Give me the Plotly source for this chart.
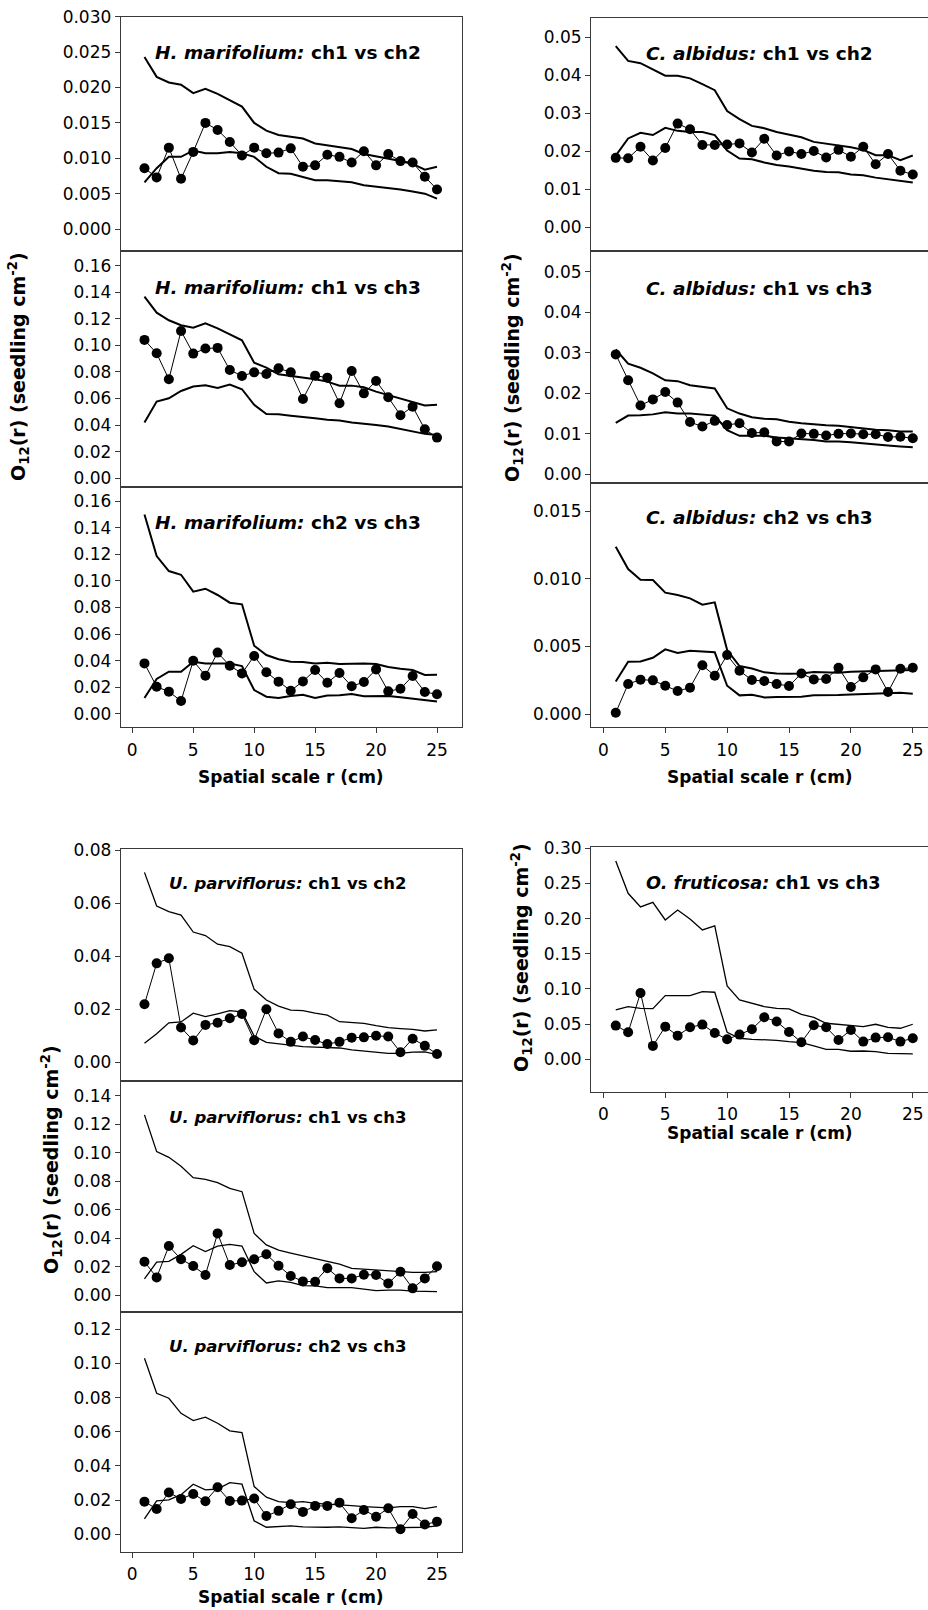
import plotly.graph_objects as go

W, H = 928, 1610

# ---------------- data ----------------
r = list(range(1, 26))
x_ticks = [0, 5, 10, 15, 20, 25]

hm12_obs = [0.0086,0.0073,0.0115,0.0071,0.0109,0.0150,0.0140,0.0123,0.0104,0.0115,0.0107,0.0108,0.0114,0.0088,0.0090,0.0105,0.0102,0.0094,0.0110,0.0090,0.0106,0.0096,0.0094,0.0074,0.0056]
hm12_hi = [0.0243,0.0215,0.0207,0.0204,0.0192,0.0198,0.0191,0.0182,0.0173,0.0150,0.0139,0.0133,0.0131,0.0128,0.0121,0.0118,0.0115,0.0113,0.0106,0.0103,0.0099,0.0096,0.0092,0.0084,0.0088]
hm12_lo = [0.0066,0.0086,0.0102,0.0102,0.0111,0.0107,0.0107,0.0109,0.0107,0.0102,0.0088,0.0079,0.0078,0.0073,0.0069,0.0069,0.0068,0.0066,0.0062,0.0060,0.0059,0.0056,0.0053,0.0050,0.0043]

hm13_obs = [0.1041,0.0940,0.0745,0.1108,0.0938,0.0976,0.0981,0.0815,0.0770,0.0797,0.0785,0.0828,0.0797,0.0597,0.0772,0.0757,0.0564,0.0807,0.0639,0.0732,0.0609,0.0474,0.0539,0.0369,0.0306]
hm13_hi = [0.1367,0.1246,0.1189,0.1151,0.1133,0.1166,0.1128,0.1083,0.1038,0.0870,0.0833,0.0782,0.0770,0.0757,0.0745,0.0727,0.0697,0.0697,0.0685,0.0652,0.0627,0.0597,0.0577,0.0547,0.0554]
hm13_lo = [0.0419,0.0577,0.0602,0.0657,0.0690,0.0700,0.0680,0.0705,0.0670,0.0552,0.0484,0.0482,0.0471,0.0459,0.0451,0.0441,0.0434,0.0419,0.0411,0.0401,0.0389,0.0371,0.0356,0.0334,0.0326]

hm23_obs = [0.0380,0.0205,0.0168,0.0098,0.0400,0.0288,0.0461,0.0363,0.0305,0.0436,0.0313,0.0243,0.0175,0.0245,0.0330,0.0235,0.0308,0.0208,0.0240,0.0335,0.0170,0.0190,0.0285,0.0165,0.0148]
hm23_hi = [0.1499,0.1186,0.1074,0.1046,0.0919,0.0941,0.0894,0.0836,0.0824,0.0513,0.0443,0.0411,0.0393,0.0391,0.0380,0.0385,0.0375,0.0380,0.0380,0.0375,0.0353,0.0340,0.0330,0.0293,0.0295]
hm23_lo = [0.0120,0.0263,0.0318,0.0318,0.0393,0.0380,0.0380,0.0380,0.0360,0.0180,0.0130,0.0120,0.0135,0.0145,0.0120,0.0138,0.0140,0.0150,0.0133,0.0133,0.0135,0.0125,0.0115,0.0100,0.0093]

ca12_obs = [0.0183,0.0182,0.0212,0.0176,0.0209,0.0273,0.0258,0.0217,0.0217,0.0218,0.0221,0.0197,0.0233,0.0189,0.0200,0.0193,0.0201,0.0184,0.0204,0.0186,0.0212,0.0166,0.0193,0.0149,0.0139]
ca12_hi = [0.0477,0.0438,0.0432,0.0416,0.0399,0.0399,0.0392,0.0377,0.0361,0.0306,0.0285,0.0267,0.0261,0.0251,0.0243,0.0237,0.0225,0.0221,0.0216,0.0211,0.0204,0.0190,0.0190,0.0177,0.0189]
ca12_lo = [0.0189,0.0234,0.0249,0.0243,0.0262,0.0254,0.0251,0.0251,0.0243,0.0202,0.0181,0.0179,0.0171,0.0164,0.0160,0.0155,0.0149,0.0146,0.0145,0.0139,0.0137,0.0131,0.0126,0.0123,0.0118]

ca13_obs = [0.0296,0.0232,0.0170,0.0185,0.0203,0.0177,0.0129,0.0118,0.0132,0.0122,0.0126,0.0102,0.0104,0.0081,0.0081,0.0101,0.0100,0.0096,0.0100,0.0101,0.0099,0.0099,0.0092,0.0093,0.0089]
ca13_hi = [0.0308,0.0273,0.0263,0.0249,0.0232,0.0230,0.0220,0.0216,0.0212,0.0163,0.0150,0.0141,0.0137,0.0136,0.0130,0.0126,0.0123,0.0121,0.0120,0.0117,0.0113,0.0110,0.0109,0.0106,0.0106]
ca13_lo = [0.0127,0.0145,0.0146,0.0148,0.0153,0.0150,0.0150,0.0148,0.0145,0.0109,0.0095,0.0095,0.0095,0.0091,0.0089,0.0086,0.0085,0.0081,0.0081,0.0079,0.0076,0.0074,0.0071,0.0069,0.0067]

ca23_obs = [0.0001,0.00222,0.00254,0.00249,0.00209,0.0017,0.00195,0.0036,0.00283,0.00436,0.0032,0.00251,0.00244,0.00222,0.00207,0.0030,0.00256,0.00259,0.00342,0.0020,0.00271,0.0033,0.00163,0.00335,0.00342]
ca23_hi = [0.01236,0.01071,0.00993,0.0099,0.00897,0.00879,0.00855,0.00808,0.00825,0.00473,0.00355,0.00337,0.00308,0.0030,0.00298,0.0030,0.0031,0.00308,0.00305,0.00313,0.00315,0.00318,0.0032,0.0032,0.00325]
ca23_lo = [0.00241,0.00387,0.00389,0.00416,0.00478,0.00451,0.00468,0.00461,0.00456,0.00209,0.00138,0.00143,0.00123,0.00126,0.00126,0.00128,0.00138,0.00138,0.0014,0.00145,0.00148,0.00153,0.00155,0.00158,0.0015]

up12_obs = [0.0219,0.0373,0.0392,0.0131,0.0082,0.0141,0.0149,0.0166,0.0182,0.0083,0.0200,0.0109,0.0077,0.0097,0.0084,0.0069,0.0077,0.0093,0.0094,0.0100,0.0097,0.0038,0.0089,0.0062,0.0031]
up12_hi = [0.0716,0.0589,0.0568,0.0555,0.0491,0.0478,0.0445,0.0436,0.0411,0.0275,0.0235,0.0212,0.0197,0.0195,0.0185,0.0178,0.0153,0.0151,0.0147,0.0138,0.0131,0.0127,0.0124,0.0118,0.0122]
up12_lo = [0.0072,0.0108,0.0149,0.0152,0.0185,0.0172,0.0183,0.0195,0.0190,0.0099,0.0075,0.0070,0.0064,0.0059,0.0057,0.0055,0.0054,0.0047,0.0042,0.0038,0.0034,0.0034,0.0038,0.0039,0.0029]

up13_obs = [0.0236,0.0126,0.0346,0.0253,0.0206,0.0143,0.0435,0.0213,0.0232,0.0253,0.0288,0.0208,0.0136,0.0098,0.0096,0.0190,0.0119,0.0119,0.0145,0.0143,0.0084,0.0166,0.0049,0.0119,0.0204]
up13_hi = [0.1267,0.1009,0.0969,0.0906,0.0826,0.0815,0.0791,0.0751,0.0728,0.0435,0.0354,0.0318,0.0297,0.0279,0.0260,0.0241,0.0220,0.0190,0.0185,0.0178,0.0171,0.0171,0.0162,0.0162,0.0166]
up13_lo = [0.0115,0.0234,0.0239,0.0288,0.0349,0.0307,0.0346,0.0358,0.0346,0.0166,0.0087,0.0101,0.0091,0.0068,0.0066,0.0054,0.0054,0.0054,0.0044,0.0033,0.0037,0.0037,0.0030,0.0026,0.0026]

up23_obs = [0.0191,0.0148,0.0244,0.0207,0.0236,0.0193,0.0275,0.0195,0.0197,0.0209,0.0107,0.0137,0.0176,0.0131,0.0166,0.0166,0.0185,0.0094,0.0142,0.0103,0.0152,0.0029,0.0119,0.0057,0.0074]
up23_hi = [0.1030,0.0825,0.0796,0.0708,0.0665,0.0685,0.0650,0.0605,0.0595,0.0279,0.0217,0.0191,0.0185,0.0191,0.0181,0.0178,0.0172,0.0168,0.0162,0.0160,0.0154,0.0162,0.0162,0.0150,0.0162]
up23_lo = [0.0090,0.0195,0.0201,0.0232,0.0293,0.0260,0.0265,0.0302,0.0293,0.0078,0.0041,0.0045,0.0049,0.0043,0.0041,0.0041,0.0043,0.0041,0.0035,0.0041,0.0037,0.0039,0.0039,0.0041,0.0049]

of13_obs = [0.0479,0.0384,0.0943,0.0190,0.0464,0.0336,0.0455,0.0493,0.0374,0.0284,0.0351,0.0427,0.0597,0.0536,0.0389,0.0242,0.0483,0.0455,0.0275,0.0417,0.0251,0.0308,0.0313,0.0251,0.0299]
of13_hi = [0.282,0.236,0.2166,0.2232,0.1981,0.2123,0.1995,0.1839,0.1896,0.1043,0.0844,0.0796,0.0749,0.0725,0.0716,0.0640,0.0597,0.0512,0.0498,0.0483,0.0464,0.0498,0.0455,0.0441,0.0498]
of13_lo = [0.0701,0.0749,0.0725,0.0720,0.0905,0.0905,0.0905,0.0962,0.0953,0.0384,0.0299,0.0284,0.0280,0.0270,0.0251,0.0237,0.0190,0.0142,0.0142,0.0114,0.0118,0.0109,0.0085,0.0085,0.0076]

labels = [
    ("H. marifolium:", "ch1 vs ch2"), ("H. marifolium:", "ch1 vs ch3"), ("H. marifolium:", "ch2 vs ch3"),
    ("C. albidus:", "ch1 vs ch2"), ("C. albidus:", "ch1 vs ch3"), ("C. albidus:", "ch2 vs ch3"),
    ("U. parviflorus:", "ch1 vs ch2"), ("U. parviflorus:", "ch1 vs ch3"), ("U. parviflorus:", "ch2 vs ch3"),
    ("O. fruticosa:", "ch1 vs ch3"),
]
y_title = "O<sub>12</sub>(r) (seedling cm<sup>-2</sup>)"
x_title = "Spatial scale r (cm)"

series = [
    (hm12_obs, hm12_hi, hm12_lo), (hm13_obs, hm13_hi, hm13_lo), (hm23_obs, hm23_hi, hm23_lo),
    (ca12_obs, ca12_hi, ca12_lo), (ca13_obs, ca13_hi, ca13_lo), (ca23_obs, ca23_hi, ca23_lo),
    (up12_obs, up12_hi, up12_lo), (up13_obs, up13_hi, up13_lo), (up23_obs, up23_hi, up23_lo),
    (of13_obs, of13_hi, of13_lo),
]

# ---------------- layout (pixels) ----------------
FONT = "DejaVu Sans"
LC = "#3a3a3a"
L_X = (120.7, 462.0); L_XR = [-0.95, 27.05]
R_X = (591.0, 928.0); R_XR = [-1.0, 26.23]

# (xpx, ypx(top,bottom), yrange, dtick, tickformat, show x ticks, env width, label px(x,y), label size)
spec = [
    (L_X, (16.7, 251.0), [-0.0031, 0.0300], 0.005, ".3f", False, 2.0, (152.7, 52.3), 18.5),
    (L_X, (251.0, 487.3), [-0.0068, 0.1710], 0.02, ".2f", False, 2.0, (152.7, 287.7), 18.5),
    (L_X, (487.3, 727.3), [-0.0100, 0.1703], 0.02, ".2f", True, 2.0, (152.7, 522.7), 18.5),
    (R_X, (18.3, 251.0), [-0.0062, 0.0550], 0.01, ".2f", False, 2.0, (644.3, 53.3), 18.5),
    (R_X, (251.0, 483.3), [-0.0022, 0.0551], 0.01, ".2f", False, 2.0, (644.3, 288.3), 18.5),
    (R_X, (483.3, 727.3), [-0.00098, 0.01705], 0.005, ".3f", True, 2.0, (644.3, 517.3), 18.5),
    (L_X, (849.3, 1081.0), [-0.00705, 0.0803], 0.02, ".2f", False, 1.3, (166.7, 883.3), 16.5),
    (L_X, (1081.0, 1312.3), [-0.0119, 0.1505], 0.02, ".2f", False, 1.3, (166.7, 1117.7), 16.5),
    (L_X, (1312.3, 1551.7), [-0.0102, 0.1299], 0.02, ".2f", True, 1.3, (166.7, 1346.7), 16.5),
    (R_X, (847.3, 1091.7), [-0.0461, 0.3014], 0.05, ".2f", True, 1.3, (644.3, 883.3), 17.7),
]

def px2x(p):
    return p / W

def px2y(p):
    return 1 - p / H

fig = go.Figure()
annotations = []
layout = {}

for i, ((obs, hi, lo), sp, (sp_name, comp)) in enumerate(zip(series, spec, labels)):
    idx = "" if i == 0 else str(i + 1)
    xa, ya = "x" + idx, "y" + idx
    xpx, ypx, yr, dt, fmt, showx, ew, lab, lsize = sp
    right = xpx[0] > 500
    for env in (hi, lo):
        fig.add_trace(go.Scatter(x=r, y=env, mode="lines", xaxis=xa, yaxis=ya,
                                 line=dict(color="black", width=ew), showlegend=False,
                                 hoverinfo="skip", cliponaxis=False))
    fig.add_trace(go.Scatter(x=r, y=obs, mode="lines+markers", xaxis=xa, yaxis=ya,
                             line=dict(color="black", width=1),
                             marker=dict(color="black", size=10), showlegend=False,
                             cliponaxis=False))
    layout["xaxis" + idx] = dict(
        domain=[px2x(xpx[0]), min(1.0, px2x(xpx[1]))],
        range=R_XR if right else L_XR, anchor=ya,
        showline=True, mirror=True, linecolor=LC, linewidth=1,
        showgrid=False, zeroline=False,
        tickmode="array", tickvals=x_ticks,
        ticks="outside" if showx else "", ticklen=5, tickcolor=LC,
        showticklabels=showx, tickfont=dict(family=FONT, size=17, color="black"),
        ticklabelstandoff=2, automargin=False,
    )
    layout["yaxis" + idx] = dict(
        domain=[px2y(ypx[1]), px2y(ypx[0])], range=yr, anchor=xa,
        showline=True, mirror=True, linecolor=LC, linewidth=1,
        showgrid=False, zeroline=False,
        tick0=0, dtick=dt, tickformat=fmt,
        ticks="outside", ticklen=5, tickcolor=LC,
        tickfont=dict(family=FONT, size=17, color="black"), automargin=False,
    )
    annotations.append(dict(
        x=px2x(lab[0]), y=px2y(lab[1]), xref="paper", yref="paper",
        xanchor="left", yanchor="middle", showarrow=False,
        text=f"<b><i>{sp_name}</i> {comp}</b>",
        font=dict(family=FONT, size=lsize, color="black"),
    ))

# axis titles
for (xc, yc) in [(291.3, 777), (759.5, 777), (291.3, 1597), (759.5, 1133)]:
    annotations.append(dict(x=px2x(xc), y=px2y(yc), xref="paper", yref="paper",
                            xanchor="center", yanchor="middle", showarrow=False,
                            text=f"<b>{x_title}</b>",
                            font=dict(family=FONT, size=17, color="black")))
for (xc, yc) in [(19, 367), (513, 368), (51, 1160), (521, 958)]:
    annotations.append(dict(x=px2x(xc), y=px2y(yc), xref="paper", yref="paper",
                            xanchor="center", yanchor="middle", showarrow=False,
                            textangle=-90, text=f"<b>{y_title}</b>",
                            font=dict(family=FONT, size=19, color="black")))

fig.update_layout(
    width=W, height=H,
    margin=dict(l=0, r=0, t=0, b=0, pad=0, autoexpand=False),
    paper_bgcolor="white", plot_bgcolor="white",
    annotations=annotations, **layout,
)

fig.write_html("out.html")
